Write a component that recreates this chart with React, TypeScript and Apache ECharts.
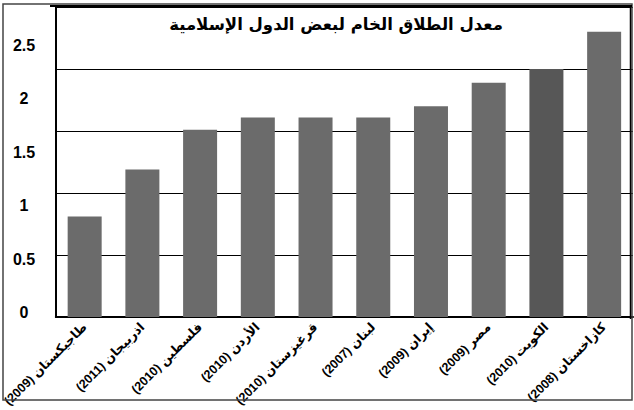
import React, { useEffect, useRef } from "react";
import * as echarts from "echarts";

const chartTitle = "معدل الطلاق الخام لبعض الدول الإسلامية";
const countries = [
  "طاجيكستان (2009)",
  "اذربيجان (2011)",
  "فلسطين (2010)",
  "الأردن (2010)",
  "قرغيزستان (2010)",
  "لبنان (2007)",
  "إيران (2009)",
  "مصر (2009)",
  "الكويت (2010)",
  "كازاخستان (2008)",
];
const divorceRates = [0.81, 1.19, 1.51, 1.61, 1.61, 1.61, 1.7, 1.89, 2.0, 2.3];
const darkerBar = "الكويت (2010)";
const yTicks = [0, 0.5, 1, 1.5, 2, 2.5];

const BAR = "#6b6b6b";
const BAR_DARK = "#575757";

export default function App() {
  const ref = useRef<HTMLDivElement>(null);
  useEffect(() => {
    if (!ref.current) return;
    const chart = echarts.init(ref.current, undefined, { renderer: "svg" });
    const yMax = yTicks[yTicks.length - 1];
    const step = yTicks[1] - yTicks[0];
    chart.setOption({
      animation: false,
      backgroundColor: "#ffffff",
      title: {
        text: chartTitle,
        left: 331,
        top: 11,
        textAlign: "center",
        textStyle: {
          fontSize: 16.5,
          fontWeight: "bold",
          color: "#000",
          fontFamily: "'DejaVu Sans', sans-serif",
        },
      },
      grid: [
        { left: 50, top: 7, width: 583, height: 312, containLabel: false },
        { left: 50, top: 45, width: 583, height: 267.5, containLabel: false },
      ],
      xAxis: [
        {
          type: "category",
          gridIndex: 0,
          data: countries,
          axisLine: { show: true, lineStyle: { color: "#000", width: 2 } },
          axisTick: { show: false },
          axisLabel: {
            interval: 0,
            rotate: 45,
            margin: 8,
            fontSize: 12.5,
            fontWeight: "bold",
            color: "#000",
            fontFamily: "'Liberation Sans', 'DejaVu Sans', sans-serif",
            formatter: (v: string) => v + "\u200F",
          },
        },
        { type: "category", gridIndex: 1, data: countries, show: false },
      ],
      yAxis: [
        {
          type: "value",
          gridIndex: 0,
          min: 0,
          max: yMax,
          interval: step,
          axisLine: { show: true, lineStyle: { color: "#000", width: 2 } },
          axisTick: { show: false },
          axisLabel: { show: false },
          splitLine: { show: true, lineStyle: { color: "#000", width: 1 } },
        },
        {
          type: "value",
          gridIndex: 1,
          min: 0,
          max: yMax,
          interval: step,
          axisLine: { show: false },
          axisTick: { show: false },
          splitLine: { show: false },
          axisLabel: {
            align: "center",
            margin: 26,
            fontSize: 16,
            fontWeight: "bold",
            color: "#000",
            fontFamily: "'Liberation Sans', sans-serif",
          },
        },
      ],
      series: [
        {
          type: "bar",
          xAxisIndex: 0,
          yAxisIndex: 0,
          barWidth: 34,
          data: divorceRates.map((v, i) => ({
            value: v,
            itemStyle: { color: countries[i] === darkerBar ? BAR_DARK : BAR },
          })),
        },
      ],
      graphic: [
        {
          type: "rect",
          shape: { x: 3, y: 4, width: 629, height: 396 },
          style: { fill: "none", stroke: "#444", lineWidth: 1.5 },
          silent: true,
          z: 100,
        },
        {
          type: "line",
          shape: { x1: 50, y1: 6, x2: 632, y2: 6 },
          style: { stroke: "#000", lineWidth: 2 },
          silent: true,
          z: 100,
        },
        {
          type: "line",
          shape: { x1: 630.5, y1: 6, x2: 630.5, y2: 319 },
          style: { stroke: "#000", lineWidth: 1.5 },
          silent: true,
          z: 100,
        },
      ],
    });
    return () => chart.dispose();
  }, []);
  return <div ref={ref} style={{ width: 634, height: 410, position: "absolute", left: 0, top: 0 }} />;
}
